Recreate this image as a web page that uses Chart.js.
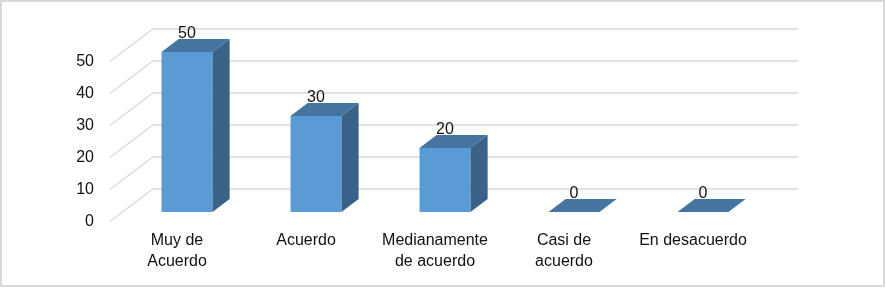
<!DOCTYPE html>
<html>
<head>
<meta charset="utf-8">
<script src="https://cdn.jsdelivr.net/npm/chart.js@4"></script>
<style>
  body { margin: 0; background: #fff; }
  #box { width: 886px; height: 288px; }
</style>
</head>
<body>
<div id="box"><canvas id="grafico"></canvas></div>
<script>
  // Datos
  const categorias = [
    ["Muy de", "Acuerdo"],
    "Acuerdo",
    ["Medianamente", "de acuerdo"],
    ["Casi de", "acuerdo"],
    "En desacuerdo",
  ];
  const valores = [50, 30, 20, 0, 0];
  const yMin = 0;
  const yMax = 50;
  const yPaso = 10;

  // Efecto 3D (pseudo perspectiva)
  const PENDIENTE = 1.32; // px en x por cada px de profundidad
  const FONDO = 23; // distancia al muro del fondo
  const FRENTE = 9.7; // distancia al borde frontal del piso
  const PROF = 13; // profundidad de cada barra

  const fuente = { family: "'Liberation Sans', Arial, sans-serif", size: 16 };

  const muro = {
    id: "muro",
    beforeDatasetsDraw(chart) {
      const { ctx, chartArea: a, scales } = chart;
      const y = scales.y;
      ctx.save();
      ctx.strokeStyle = "#d9d9d9";
      ctx.lineWidth = 1.3;
      y.ticks.forEach((t) => {
        const py = y.getPixelForValue(t.value);
        ctx.beginPath();
        ctx.moveTo(a.left - FRENTE * PENDIENTE, py + FRENTE);
        ctx.lineTo(a.left + FONDO * PENDIENTE, py - FONDO);
        ctx.lineTo(a.right + FONDO * PENDIENTE, py - FONDO);
        ctx.stroke();
      });
      ctx.restore();
    },
  };

  const barras3d = {
    id: "barras3d",
    afterDatasetsDraw(chart) {
      const ctx = chart.ctx;
      const dx = PROF * PENDIENTE;
      const dy = PROF;
      ctx.save();
      chart.getDatasetMeta(0).data.forEach((bar, i) => {
        const l = bar.x - bar.width / 2;
        const r = bar.x + bar.width / 2;
        const t = bar.y;
        const b = bar.base;
        // cara superior
        ctx.fillStyle = "#4674a1";
        ctx.beginPath();
        ctx.moveTo(l, t);
        ctx.lineTo(l + dx, t - dy);
        ctx.lineTo(r + dx, t - dy);
        ctx.lineTo(r, t);
        ctx.closePath();
        ctx.fill();
        // cara lateral
        if (b - t > 0.5) {
          ctx.fillStyle = "#3a6288";
          ctx.beginPath();
          ctx.moveTo(r, t);
          ctx.lineTo(r + dx, t - dy);
          ctx.lineTo(r + dx, b - dy);
          ctx.lineTo(r, b);
          ctx.closePath();
          ctx.fill();
        }
        // etiqueta de valor
        ctx.fillStyle = "#111";
        ctx.font = fuente.size + "px " + fuente.family;
        ctx.textAlign = "center";
        ctx.textBaseline = "middle";
        ctx.fillText(String(valores[i]), bar.x, t - 18);
      });
      ctx.restore();
    },
  };

  const marco = {
    id: "marco",
    afterDraw(chart) {
      const ctx = chart.ctx;
      ctx.save();
      ctx.strokeStyle = "#d9d9d9";
      ctx.lineWidth = 2;
      ctx.strokeRect(1, 1, chart.width - 3, chart.height - 3);
      ctx.restore();
    },
  };

  new Chart(document.getElementById("grafico"), {
    type: "bar",
    data: {
      labels: categorias,
      datasets: [
        {
          data: valores,
          backgroundColor: "#5b9bd5",
          borderWidth: 0,
          barPercentage: 0.395,
          categoryPercentage: 1,
        },
      ],
    },
    options: {
      responsive: true,
      maintainAspectRatio: false,
      animation: false,
      layout: { padding: { top: 52, right: 118.5, bottom: 0, left: 0 } },
      plugins: {
        legend: { display: false },
        tooltip: { enabled: false },
      },
      scales: {
        x: {
          grid: { display: false, drawTicks: false },
          border: { display: false },
          afterFit(s) {
            s.height = 76;
          },
          ticks: {
            color: "#111",
            font: { ...fuente, lineHeight: 1.31 },
            padding: 18.5,
            labelOffset: -10,
            maxRotation: 0,
            autoSkip: false,
          },
        },
        y: {
          min: yMin,
          max: yMax,
          grid: { display: false, drawTicks: false },
          border: { display: false },
          afterFit(s) {
            s.width = 122.5;
          },
          ticks: {
            stepSize: yPaso,
            color: "#111",
            font: fuente,
            padding: 28.5,
            labelOffset: 10,
          },
        },
      },
    },
    plugins: [muro, barras3d, marco],
  });
</script>
</body>
</html>
